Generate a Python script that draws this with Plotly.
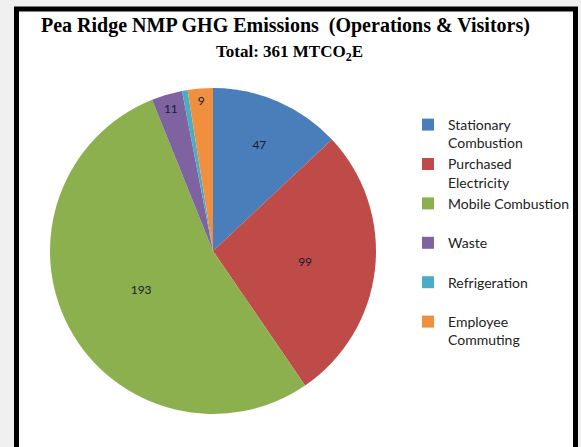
import plotly.graph_objects as go

W, H = 581, 447

categories = ["Stationary<br>Combustion", "Purchased<br>Electricity", "Mobile Combustion<br> ",
              "Waste<br> ", "Refrigeration<br> ", "Employee<br>Commuting"]
values = [47, 99, 193, 11, 2, 9]
shown_labels = ["47", "99", "193", "11", "", "9"]
colors = ["#4A7EBB", "#BE4B48", "#8DB04F", "#7F63A1", "#4AACC6", "#F0903F"]

def px(x):
    return x / W

def py(y):
    return 1 - y / H

fig = go.Figure()
fig.add_trace(go.Pie(
    labels=categories,
    values=values,
    text=shown_labels,
    textinfo="text",
    textposition="inside",
    insidetextorientation="horizontal",
    textfont=dict(family="Lato", size=12, color="#1a1a2e"),
    marker=dict(colors=colors, line=dict(width=0)),
    sort=False,
    direction="clockwise",
    rotation=0,
    domain=dict(x=[px(50), px(376)], y=[py(414), py(88)]),
    hoverinfo="label+value",
))

fig.add_shape(type="rect", xref="paper", yref="paper",
              x0=px(16.5), x1=px(575.5), y0=-0.05, y1=py(9),
              line=dict(color="black", width=5), fillcolor="white", layer="below")

fig.add_annotation(text="<b>Pea Ridge NMP GHG Emissions  (Operations &amp; Visitors)</b>",
                   xref="paper", yref="paper", x=px(285), y=py(26), yanchor="middle",
                   showarrow=False,
                   font=dict(family="Liberation Serif", size=20, color="black"))
fig.add_annotation(text="<b>Total: 361 MTCO<sub>2</sub>E</b>",
                   xref="paper", yref="paper", x=px(289), y=py(53), yanchor="middle",
                   showarrow=False,
                   font=dict(family="Liberation Serif", size=17, color="black"))

fig.update_layout(
    width=W, height=H,
    margin=dict(l=0, r=0, t=0, b=0),
    paper_bgcolor="#F0F0F0",
    plot_bgcolor="white",
    showlegend=True,
    uniformtext=dict(minsize=12, mode="show"),
    legend=dict(x=px(408), y=py(109), xanchor="left", yanchor="top",
                valign="top", bgcolor="rgba(0,0,0,0)",
                font=dict(family="Lato", size=14, color="#222222")),
)

fig.write_html("out.html", config={"displayModeBar": False},
               post_script="document.body.style.margin='0';")
